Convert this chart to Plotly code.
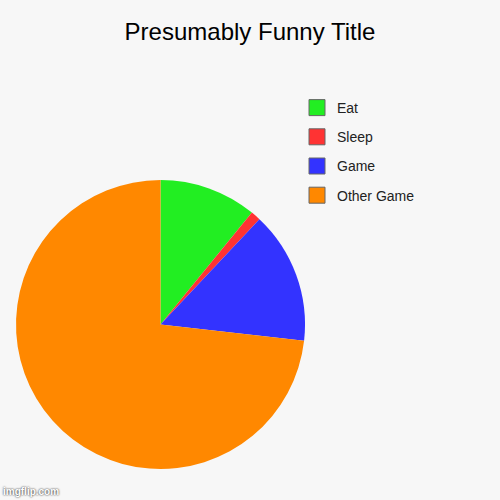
import plotly.graph_objects as go

# slice data (share of the whole, %)
labels = ["Eat", "Sleep", "Game", "Other Game"]
values = [10.9, 1.1, 14.8, 73.2]
colors = ["#22ee22", "#ff3333", "#3333ff", "#ff8800"]

fig = go.Figure()

fig.add_trace(
    go.Pie(
        labels=labels,
        values=values,
        marker=dict(colors=colors, line=dict(width=0)),
        sort=False,
        direction="clockwise",
        rotation=0,
        textinfo="none",
        hoverinfo="label+percent",
        showlegend=False,
        domain=dict(x=[0.032, 0.61], y=[0.062, 0.64]),
    )
)

# legend-only entries so the swatches get a grey border like the original
for i, lab in enumerate(labels):
    fig.add_trace(
        go.Scatter(
            x=[None],
            y=[None],
            mode="markers",
            name=lab,
            legendgroup=lab,
            marker=dict(symbol="square", size=16, color=colors[i],
                        line=dict(color="#666666", width=1)),
        )
    )

fig.update_layout(
    width=500,
    height=500,
    margin=dict(l=0, r=0, t=0, b=0),
    paper_bgcolor="#f7f7f7",
    plot_bgcolor="#f7f7f7",
    xaxis=dict(visible=False),
    yaxis=dict(visible=False),
    title=dict(
        text="Presumably Funny Title",
        x=0.5,
        xanchor="center",
        y=1 - 32 / 500,
        yanchor="middle",
        font=dict(family="Liberation Sans, Arial", size=24, color="#000000"),
    ),
    legend=dict(
        x=0.594,
        y=1 - 92 / 500,
        xanchor="left",
        yanchor="top",
        bgcolor="rgba(0,0,0,0)",
        font=dict(family="Liberation Sans, Arial", size=14, color="#222222"),
        tracegroupgap=8,
        itemwidth=30,
    ),
    annotations=[
        dict(
            text="<b>imgflip.com</b>",
            xref="paper",
            yref="paper",
            x=0.002,
            y=0.002,
            xanchor="left",
            yanchor="bottom",
            showarrow=False,
            font=dict(family="Liberation Sans, Arial", size=10, color="#ffffff",
                      shadow="0px 0px 2px #000000"),
        )
    ],
)

# drop the page's default body margin so the chart sits at the corner
fig.write_html(
    "out.html",
    config=dict(displayModeBar=False),
    post_script="document.body.style.margin='0';",
)
